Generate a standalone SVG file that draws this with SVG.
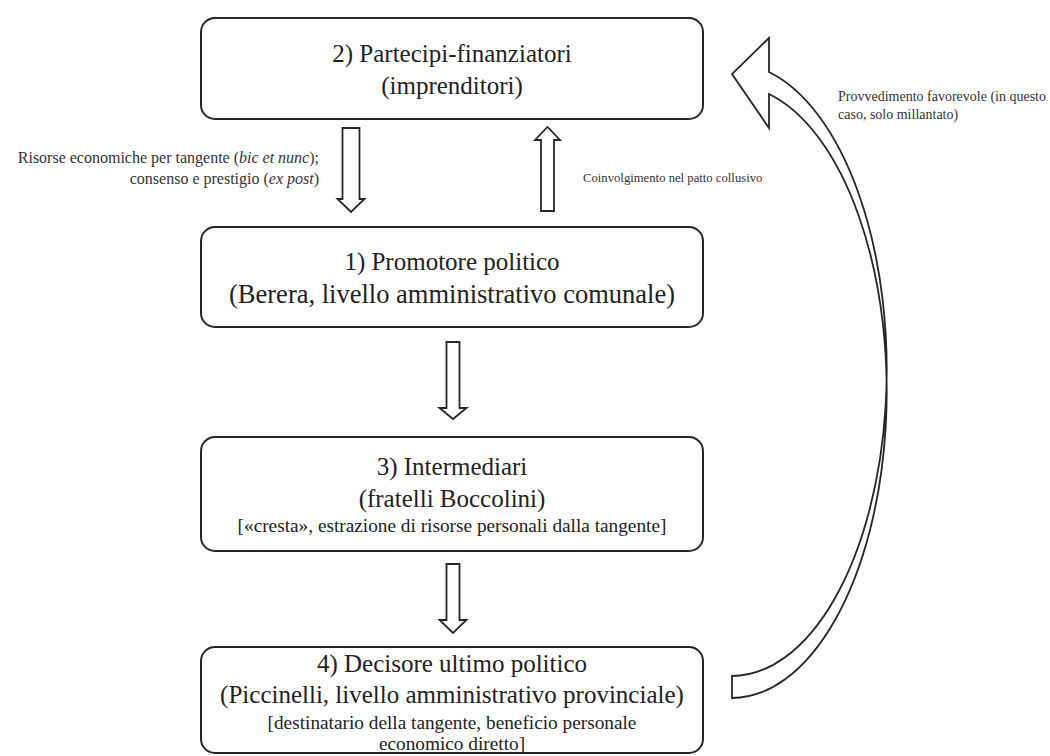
<svg xmlns="http://www.w3.org/2000/svg" width="1050" height="756" viewBox="0 0 1050 756">
  <style>
    .box { fill: #ffffff; stroke: #262626; stroke-width: 2; }
    .arrow { fill: #ffffff; stroke: #262626; stroke-width: 1.8; stroke-linejoin: miter; }
    .main { font-family: "Liberation Serif", "Times New Roman", serif; font-size: 25px; fill: #222222; text-anchor: middle; }
    .note { font-family: "Liberation Serif", "Times New Roman", serif; font-size: 19.3px; fill: #222222; text-anchor: middle; }
    .side { font-family: "Liberation Serif", "Times New Roman", serif; font-size: 16px; fill: #333333; }
    .side-r { font-family: "Liberation Serif", "Times New Roman", serif; font-size: 14px; fill: #333333; }
  </style>
  <rect width="1050" height="756" fill="#ffffff"/>

  <!-- connectors: hollow block arrows -->
  <g id="connectors">
    <!-- partecipi -> promotore -->
    <path class="arrow" d="M342.5 128 H359.5 V199 H364.5 L351 212 L337.5 199 H342.5 Z"/>
    <!-- promotore -> partecipi -->
    <path class="arrow" d="M541 211 H554 V140 H560 L547.5 127 L535 140 H541 Z"/>
    <!-- promotore -> intermediari -->
    <path class="arrow" d="M446.5 342 H459.5 V408 H466.5 L453 419 L439.5 408 H446.5 Z"/>
    <!-- intermediari -> decisore -->
    <path class="arrow" d="M446.5 564 H459.5 V620 H466.5 L453 633 L439.5 620 H446.5 Z"/>
    <!-- decisore -> partecipi: curved ribbon arrow -->
    <path class="arrow" d="M732 676 A155 306.5 0 0 0 769 72 L769 38 L732 74 L769 128 L769 94 A155 306.5 0 0 1 732 698 Z"/>
    <text class="side" x="319" y="163" text-anchor="end">Risorse economiche per tangente (<tspan font-style="italic">bic et nunc</tspan>);</text>
    <text class="side" x="319" y="184" text-anchor="end">consenso e prestigio (<tspan font-style="italic">ex post</tspan>)</text>
    <text class="side-r" x="583" y="182" style="font-size:12.7px">Coinvolgimento nel patto collusivo</text>
    <text class="side-r" x="838" y="101">Provvedimento favorevole (in questo</text>
    <text class="side-r" x="838" y="119">caso, solo millantato)</text>
  </g>

  <g id="node-partecipi">
    <rect class="box" x="201" y="18" width="502" height="101" rx="14"/>
    <text class="main" x="452" y="62">2) Partecipi-finanziatori</text>
    <text class="main" x="452" y="94">(imprenditori)</text>
  </g>

  <g id="node-promotore">
    <rect class="box" x="201" y="227" width="502" height="100" rx="14"/>
    <text class="main" x="452" y="270">1) Promotore politico</text>
    <text class="main" x="452" y="303" style="font-size:26.5px">(Berera, livello amministrativo comunale)</text>
  </g>

  <g id="node-intermediari">
    <rect class="box" x="201" y="437" width="502" height="114" rx="14"/>
    <text class="main" x="452" y="475">3) Intermediari</text>
    <text class="main" x="452" y="507">(fratelli Boccolini)</text>
    <text class="note" x="452" y="532">[«cresta», estrazione di risorse personali dalla tangente]</text>
  </g>

  <g id="node-decisore">
    <rect class="box" x="201" y="647" width="502" height="106" rx="14"/>
    <text class="main" x="452" y="672">4) Decisore ultimo politico</text>
    <text class="main" x="452" y="703">(Piccinelli, livello amministrativo provinciale)</text>
    <text class="note" x="452" y="729">[destinatario della tangente, beneficio personale</text>
    <text class="note" x="452" y="750">economico diretto]</text>
  </g>
</svg>
